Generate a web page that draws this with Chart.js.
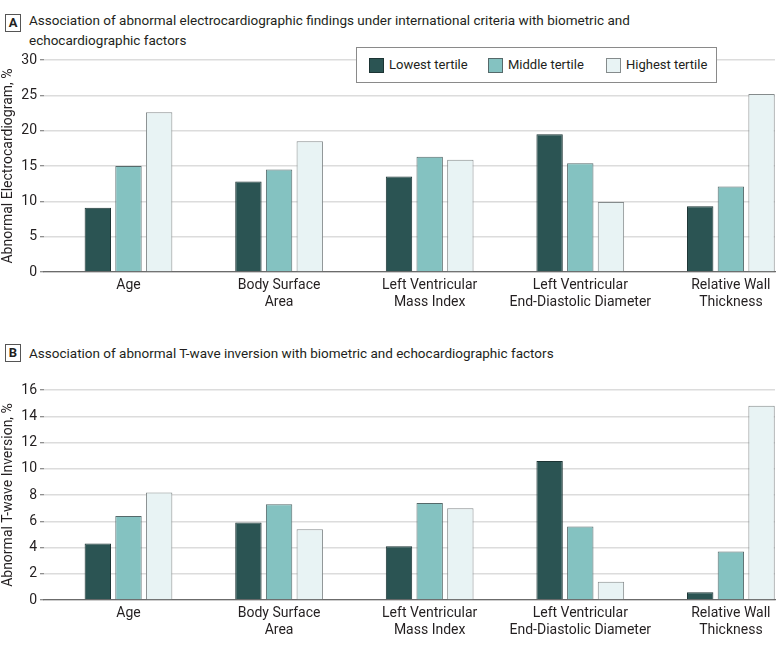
<!DOCTYPE html>
<html>
<head>
<meta charset="utf-8">
<script src="https://cdn.jsdelivr.net/npm/chart.js@4.4.1/dist/chart.umd.min.js"></script>
<style>
  body { margin: 0; background: #fff; }
  #page { position: relative; width: 783px; height: 648px; overflow: hidden; font-family: Roboto, sans-serif; color: #231f20; }
  .tag { position: absolute; left: 5px; width: 14px; height: 16px; border: 1px solid #555; font-weight: bold; font-size: 13px; text-align: center; line-height: 16px; }
  .title { position: absolute; left: 29px; font-size: 13.5px; line-height: 20px; }
  .chartbox { position: absolute; left: 0; width: 783px; }
  #legend { position: absolute; left: 356px; top: 47px; width: 359px; height: 34px; border: 1px solid #8a8a8a; background: #fff; font-size: 13px; }
  #legend span.item { position: absolute; top: 0; line-height: 34px; white-space: nowrap; }
  #legend i { display: inline-block; width: 15px; height: 15px; border: 1px solid #777; vertical-align: -4px; margin-right: 5px; box-sizing: border-box; }
</style>
</head>
<body>
<div id="page">
  <div class="tag" style="top:14px">A</div>
  <div class="title" style="top:10px">Association of abnormal electrocardiographic findings under international criteria with biometric and<br>echocardiographic factors</div>
  <div class="chartbox" style="top:44px; height:268px"><canvas id="chartA"></canvas></div>
  <div id="legend"></div>

  <div class="tag" style="top:344px">B</div>
  <div class="title" style="top:343px">Association of abnormal T-wave inversion with biometric and echocardiographic factors</div>
  <div class="chartbox" style="top:372px; height:268px"><canvas id="chartB"></canvas></div>
</div>
<script>
// categories on the x axis (multi-line labels)
const categories = [
  ['Age'],
  ['Body Surface', 'Area'],
  ['Left Ventricular', 'Mass Index'],
  ['Left Ventricular', 'End-Diastolic Diameter'],
  ['Relative Wall', 'Thickness']
];
const seriesNames = ['Lowest tertile', 'Middle tertile', 'Highest tertile'];
const seriesColors = ['#2b5453', '#84c2c1', '#e8f3f4'];
const seriesBorders = ['#1c3434', '#55696a', '#858b8c'];

// panel A: abnormal ECG, %
const ecgLowest  = [9.1, 12.8, 13.5, 19.5, 9.3];
const ecgMiddle  = [15.0, 14.5, 16.3, 15.4, 12.1];
const ecgHighest = [22.6, 18.5, 15.9, 9.9, 25.2];
const ecgTicks = [0, 5, 10, 15, 20, 25, 30];

// panel B: abnormal T-wave inversion, %
const twiLowest  = [4.3, 5.9, 4.1, 10.6, 0.6];
const twiMiddle  = [6.4, 7.3, 7.4, 5.6, 3.7];
const twiHighest = [8.2, 5.4, 7.0, 1.4, 14.8];
const twiTicks = [0, 2, 4, 6, 8, 10, 12, 14, 16];

const FONT = 'Roboto';
const TEXT = '#231f20';

// html legend built from the series
const legend = document.getElementById('legend');
const legendX = [12, 131, 249];
seriesNames.forEach((name, i) => {
  const s = document.createElement('span');
  s.className = 'item';
  s.style.left = legendX[i] + 'px';
  s.innerHTML = '<i style="background:' + seriesColors[i] + ';border-color:' + seriesBorders[i] + '"></i>' + name;
  legend.appendChild(s);
});

const makeChart = (id, yTitle, series, yTicks, padTop) => {
  const ctx = document.getElementById(id);
  return new Chart(ctx, {
    type: 'bar',
    data: {
      datasets: series.map((vals, i) => ({
        label: seriesNames[i],
        data: vals.map((v, k) => ({ x: k, y: v })),
        backgroundColor: seriesColors[i],
        borderColor: seriesBorders[i],
        borderWidth: 1,
        categoryPercentage: 0.611,
        barPercentage: 0.86
      }))
    },
    options: {
      responsive: true,
      maintainAspectRatio: false,
      animation: false,
      layout: { padding: { top: padTop, right: 8, left: 0, bottom: 0 } },
      plugins: {
        legend: { display: false },
        tooltip: { enabled: false }
      },
      scales: {
        x: {
          type: 'linear',
          offset: false,
          min: -0.561,
          max: 4.293,
          grid: { display: false, drawTicks: false, offset: false },
          border: { display: true, color: '#6b6b6b', width: 1.2 },
          afterBuildTicks: (scale) => { scale.ticks = categories.map((c, k) => ({ value: k })); },
          afterFit: (scale) => { scale.height = 40; },
          ticks: {
            autoSkip: false,
            maxRotation: 0,
            padding: 5,
            color: TEXT,
            font: { family: FONT, size: 14 },
            callback: (v) => categories[v]
          }
        },
        y: {
          min: yTicks[0],
          max: yTicks[yTicks.length - 1],
          afterBuildTicks: (scale) => { scale.ticks = yTicks.map(v => ({ value: v })); },
          afterFit: (scale) => { scale.width = 44; },
          border: { display: false },
          grid: { color: '#dcdcdc', lineWidth: 1.5, tickLength: 4, tickColor: '#6b6b6b', tickWidth: 1 },
          ticks: { padding: 3, color: TEXT, font: { family: FONT, size: 14 } },
          title: {
            display: true,
            text: yTitle,
            color: TEXT,
            padding: { top: 0, bottom: 0 },
            font: { family: FONT, size: 14 }
          }
        }
      }
    }
  });
};

makeChart('chartA', 'Abnormal Electrocardiogram, %', [ecgLowest, ecgMiddle, ecgHighest], ecgTicks, 16);
makeChart('chartB', 'Abnormal T-wave Inversion, %', [twiLowest, twiMiddle, twiHighest], twiTicks, 18);
</script>
</body>
</html>
